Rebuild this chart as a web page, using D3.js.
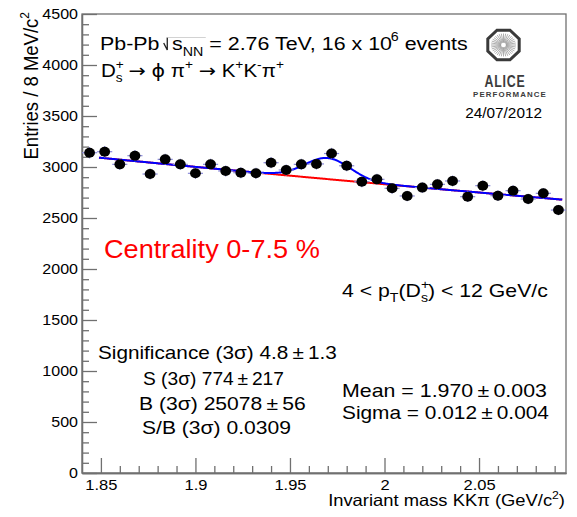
<!DOCTYPE html>
<html>
<head>
<meta charset="utf-8">
<script src="https://cdn.jsdelivr.net/npm/d3@7"></script>
<style>
  body { margin: 0; background: #fff; }
  svg { display: block; }
  text { font-family: "Liberation Sans", Arial, Helvetica, sans-serif; fill: #000; }
</style>
</head>
<body>
<svg id="chart" width="577" height="517"></svg>
<script>
// D_s+ -> phi pi+ -> K+K-pi+ invariant-mass spectrum, 8 MeV/c^2 bins from 1.840 to 2.096 GeV/c^2
const binLow = 1.84;
const binWidth = 0.008;
const counts = [3140, 3150, 3026, 3111, 2931, 3075, 3026, 2938, 3026, 2961, 2944, 2938,
                3042, 2971, 3026, 3030, 3132, 3012, 2856, 2879, 2791, 2716, 2798, 2830,
                2863, 2709, 2817, 2719, 2768, 2686, 2742, 2578];

// Fit: exponential background + Gaussian signal
const fitRange = [1.849, 2.094];
const bkgNorm = 3108;      // background per bin at 1.840 GeV/c^2
const bkgSlope = -0.583;   // exponential slope (1/GeV)
const sigMean = 1.970;
const sigSigma = 0.012;
const sigYield3s = 774;    // signal counts inside +-3 sigma

// Axis ticks
const xMajorTicks = [1.85, 1.9, 1.95, 2.0, 2.05];
const xTickLabels = ["1.85", "1.9", "1.95", "2", "2.05"];
const yMajorTicks = [0, 500, 1000, 1500, 2000, 2500, 3000, 3500, 4000, 4500];

const svg = d3.select("#chart");
const frameL = 82, frameR = 566, frameT = 14, frameB = 473;
const axisColor = "#707070";

const x = d3.scaleLinear().domain([binLow, binLow + binWidth * counts.length]).range([frameL, frameR]);
const y = d3.scaleLinear().domain([0, 4500]).range([frameB, frameT]);

// Horizontal stretch of a text (or group) about its anchor point
function stretch(sel, k, anchor) {
  const node = sel.node();
  const bb = node.getBBox();
  const a = anchor || sel.attr("text-anchor") || "start";
  const ax = a === "middle" ? bb.x + bb.width / 2 : a === "end" ? bb.x + bb.width : bb.x;
  const prev = sel.attr("transform") || "";
  sel.attr("transform", `${prev} translate(${ax},0) scale(${k},1) translate(${-ax},0)`);
  return sel;
}
// Stretch so the drawn width equals w
function fitWidth(sel, w, anchor) {
  const bb = sel.node().getBBox();
  return stretch(sel, w / bb.width, anchor);
}

// ---- frame ----
svg.append("rect").attr("x", frameL).attr("y", frameT).attr("width", frameR - frameL).attr("height", frameB - frameT)
  .attr("fill", "none").attr("stroke", axisColor).attr("stroke-width", 1.3);

// ---- y axis (ticks pointing inward) ----
const yMinor = d3.range(0, 4501, 100).filter(v => v % 500 !== 0);
svg.append("g").attr("transform", `translate(${frameL},0)`)
  .call(d3.axisLeft(y).tickValues(yMinor).tickSizeInner(-7).tickSizeOuter(0).tickFormat(""));
const yAxis = svg.append("g").attr("transform", `translate(${frameL},0)`)
  .call(d3.axisLeft(y).tickValues(yMajorTicks).tickSizeInner(-15).tickSizeOuter(0).tickPadding(4).tickFormat(d3.format("d")));
yAxis.selectAll("text").attr("font-size", 15).attr("fill", "#000").attr("font-family", "Liberation Sans, Arial, sans-serif")
  .each(function () { stretch(d3.select(this), 1.07, "end"); });

// ---- x axis ----
const xMinor = d3.range(185, 210, 1).map(v => v / 100).filter(v => Math.round(v * 100) % 5 !== 0);
svg.append("g").attr("transform", `translate(0,${frameB})`)
  .call(d3.axisBottom(x).tickValues(xMinor).tickSizeInner(-7).tickSizeOuter(0).tickFormat(""));
const xAxis = svg.append("g").attr("transform", `translate(0,${frameB})`)
  .call(d3.axisBottom(x).tickValues(xMajorTicks).tickSizeInner(-15).tickSizeOuter(0).tickPadding(6)
        .tickFormat((d, i) => xTickLabels[i]));
xAxis.selectAll("text").attr("font-size", 15).attr("fill", "#000").attr("font-family", "Liberation Sans, Arial, sans-serif")
  .each(function () { stretch(d3.select(this), 1.1, "middle"); });

svg.selectAll(".domain, .tick line").attr("stroke", axisColor).attr("stroke-width", 1.3);

// ---- rich text helper: parts are [string, kind, dx, family] with kind in "", "sub", "sup", "stack" ----
function rich(parent, px, py, size, parts, anchor, color) {
  const t = parent.append("text").attr("x", px).attr("y", py).attr("font-size", size)
    .attr("text-anchor", anchor || "start").style("fill", color || "#000");
  let shift = 0;
  const small = Math.round(size * 0.65);
  const supOff = -size * 0.42, subOff = size * 0.3;
  parts.forEach(([str, kind, extraDx, family]) => {
    if (kind === "stack") {
      const [sup, sub] = str;
      const a = t.append("tspan").attr("font-size", small).attr("dy", supOff - shift).text(sup);
      if (extraDx) a.attr("dx", extraDx);
      const w = a.node().getComputedTextLength();
      t.append("tspan").attr("font-size", small).attr("dx", -w).attr("dy", subOff - supOff).text(sub);
      shift = subOff;
    } else {
      const target = kind === "sup" ? supOff : kind === "sub" ? subOff : 0;
      const s = t.append("tspan").attr("dy", target - shift).text(str);
      if (kind) s.attr("font-size", small);
      if (extraDx) s.attr("dx", extraDx);
      if (family) s.style("font-family", family);
      shift = target;
    }
  });
  return t;
}

// ---- axis titles ----
rich(svg, 0, 0, 18.5, [["Entries / 8 MeV/c"], ["2", "sup"]], "end")
  .attr("transform", "translate(38,12) rotate(-90) scale(1,1.1)");
fitWidth(rich(svg, 565, 506, 16.5, [["Invariant mass KK\u03c0 (GeV/c"], ["2", "sup"], [")"]], "end"), 237);

// ---- data points with error bars ----
const pts = counts.map((c, i) => ({ m: binLow + binWidth * (i + 0.5), c, e: Math.sqrt(c) }));
const errColor = "#8a8ad8";
const gPts = svg.append("g");
gPts.selectAll("line.h").data(pts).join("line")
  .attr("x1", d => x(d.m - binWidth / 2)).attr("x2", d => x(d.m + binWidth / 2))
  .attr("y1", d => y(d.c)).attr("y2", d => y(d.c))
  .attr("stroke", errColor).attr("stroke-width", 1.2);
gPts.selectAll("line.v").data(pts).join("line")
  .attr("x1", d => x(d.m)).attr("x2", d => x(d.m))
  .attr("y1", d => y(d.c - d.e)).attr("y2", d => y(d.c + d.e))
  .attr("stroke", errColor).attr("stroke-width", 1.2);

// ---- fit curves ----
const bkg = m => bkgNorm * Math.exp(bkgSlope * (m - binLow));
const sigAmp = (sigYield3s / 0.9973) * binWidth / (Math.sqrt(2 * Math.PI) * sigSigma);
const total = m => bkg(m) + sigAmp * Math.exp(-0.5 * ((m - sigMean) / sigSigma) ** 2);
const grid = d3.range(fitRange[0], fitRange[1] + 1e-9, 0.0005);
const line = f => d3.line().x(m => x(m)).y(m => y(f(m)))(grid);
svg.append("path").attr("d", line(bkg)).attr("fill", "none").attr("stroke", "#ff0000").attr("stroke-width", 2);
svg.append("path").attr("d", line(total)).attr("fill", "none").attr("stroke", "#0000ff").attr("stroke-width", 2);

gPts.raise();
gPts.selectAll("circle").data(pts).join("ellipse")
  .attr("cx", d => x(d.m)).attr("cy", d => y(d.c)).attr("rx", 5.4).attr("ry", 5).attr("fill", "#000");

// ---- header text: collision system with sqrt(s_NN) ----
const head = svg.append("g");
const t1 = head.append("text").attr("x", 100).attr("y", 50).attr("font-size", 18).text("Pb-Pb");
const w1 = t1.node().getComputedTextLength();
const sx = 100 + w1 + 3.5;
const t2 = head.append("text").attr("x", sx + 7).attr("y", 50).attr("font-size", 18);
const sS = t2.append("tspan").text("s");
const sNN = t2.append("tspan").attr("font-size", 12).attr("dy", 6).text("NN");
t2.append("tspan").attr("dy", -6).text(" = 2.76 TeV, 16 x 10");
t2.append("tspan").attr("font-size", 12).attr("dy", -9).attr("dx", -1).text("6");
t2.append("tspan").attr("dy", 9).text(" events");
const rootEnd = sx + 7 + sS.node().getComputedTextLength() + sNN.node().getComputedTextLength() + 2;
head.append("path").attr("d", `M${sx},43 L${sx + 3},50 L${sx + 3},37.5`)
  .attr("fill", "none").attr("stroke", "#222").attr("stroke-width", 1.1);
head.append("path").attr("d", `M${sx + 3},37.5 L${rootEnd},37.5`)
  .attr("fill", "none").attr("stroke", "#c4c4c4").attr("stroke-width", 0.7);
fitWidth(head, 368, "start");

const sym = "DejaVu Sans";
fitWidth(rich(svg, 101, 77, 18, [["D"], [["+", "s"], "stack"], [" "], ["\u2192", "", 0, sym], [" "], ["\u03d5", "", 0, sym], [" \u03c0"],
  ["+", "sup"], [" "], ["\u2192", "", 0, sym], [" K"], ["+", "sup"], ["K"], ["-", "sup"], ["\u03c0"], ["+", "sup"]]), 183);

// ---- ALICE performance logo ----
const logo = svg.append("g").attr("transform", "translate(503.5,45)");
const oct = d3.range(8).map(k => {
  const a = Math.PI / 8 + k * Math.PI / 4;
  return [17 * Math.cos(a), 16 * Math.sin(a)];
});
d3.range(36).forEach(k => {
  const a = k * Math.PI / 18;
  logo.append("line").attr("x1", 2.5 * Math.cos(a)).attr("y1", 2.5 * Math.sin(a))
    .attr("x2", 12.5 * Math.cos(a)).attr("y2", 11.5 * Math.sin(a))
    .attr("stroke", "#9a9a9a").attr("stroke-width", 0.8);
});
logo.append("path").attr("d", "M" + oct.map(p => p.join(",")).join("L") + "Z")
  .attr("fill", "none").attr("stroke", "#3a3a3a").attr("stroke-width", 3);
fitWidth(svg.append("text").attr("x", 505).attr("y", 87).attr("text-anchor", "middle").attr("font-size", 16)
  .attr("font-weight", "bold").attr("letter-spacing", 1).style("fill", "#3c3c3c").text("ALICE"), 41);
fitWidth(svg.append("text").attr("x", 510).attr("y", 97).attr("text-anchor", "middle").attr("font-size", 6.5)
  .attr("font-weight", "bold").attr("letter-spacing", 0.9).style("fill", "#3c3c3c").text("PERFORMANCE"), 74);
fitWidth(svg.append("text").attr("x", 542).attr("y", 118).attr("text-anchor", "end").attr("font-size", 14).text("24/07/2012"), 77);

// ---- annotations ----
fitWidth(rich(svg, 104, 258, 26, [["Centrality 0-7.5 %"]], "start", "#ff0000"), 216);
fitWidth(rich(svg, 342, 297, 18, [["4 < p"], ["T", "sub"], ["(D", ""], [["+", "s"], "stack"], [") < 12 GeV/c"]]), 206);

const pm = "\u2009\u00b1\u2009";
fitWidth(rich(svg, 98, 359, 18, [["Significance (3\u03c3) 4.8" + pm + "1.3"]]), 239);
fitWidth(rich(svg, 143, 385, 18, [["S (3\u03c3) 774" + pm + "217"]]), 141);
fitWidth(rich(svg, 139, 410, 18, [["B (3\u03c3) 25078" + pm + "56"]]), 167);
fitWidth(rich(svg, 142, 434, 18, [["S/B (3\u03c3) 0.0309"]]), 149);

fitWidth(rich(svg, 342, 397, 18, [["Mean = 1.970" + pm + "0.003"]]), 205);
fitWidth(rich(svg, 342, 419, 18, [["Sigma = 0.012" + pm + "0.004"]]), 207);
</script>
</body>
</html>
